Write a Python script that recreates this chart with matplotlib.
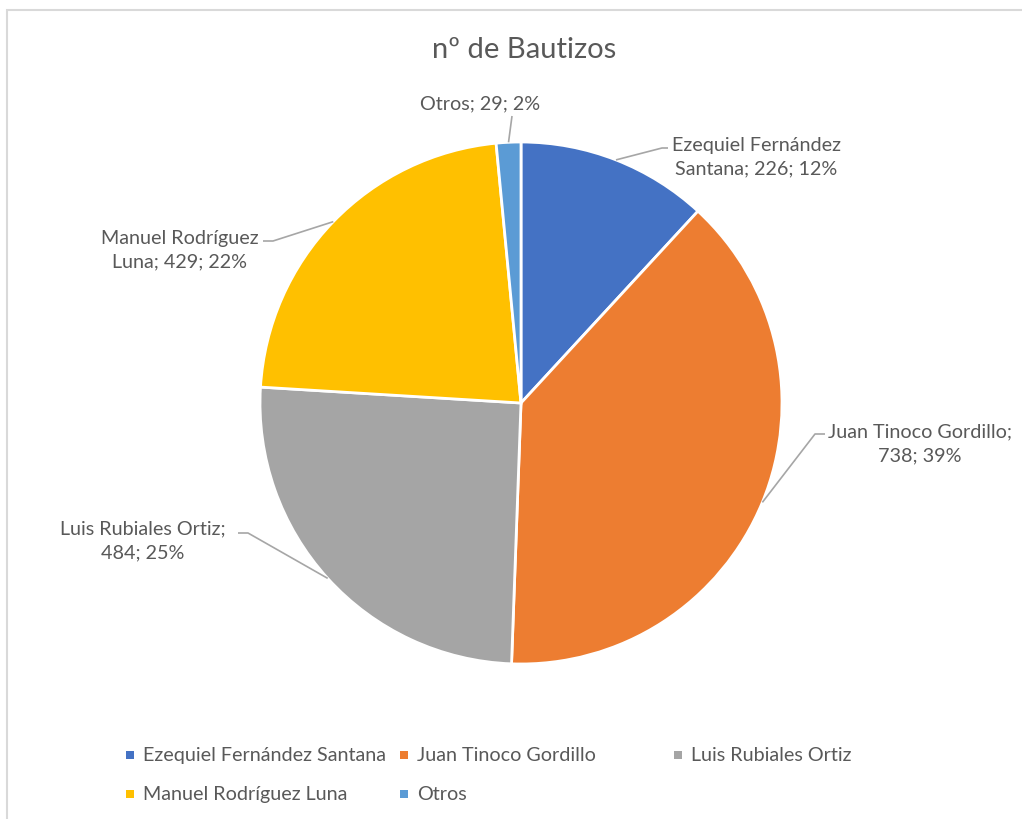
import matplotlib.pyplot as plt
import numpy as np
from matplotlib.patches import Rectangle

# datos
nombres = ["Ezequiel Fernández Santana", "Juan Tinoco Gordillo",
           "Luis Rubiales Ortiz", "Manuel Rodríguez Luna", "Otros"]
bautizos = [226, 738, 484, 429, 29]
porcentajes = [12, 39, 25, 22, 2]
colores = ["#4472C4", "#ED7D31", "#A5A5A5", "#FFC000", "#5B9BD5"]
titulo = "nº de Bautizos"

# donde Excel parte cada etiqueta en dos lineas
cortes = ["Fernández", "Gordillo;", "Ortiz;", "Rodríguez", None]

W, H = 1022, 820
TXT = "#595959"
LINEA = "#A6A6A6"
FUENTE = "Lato"
TAM = 14.2


def py(y):
    # coordenada de pixel (desde arriba) a coordenada de datos
    return H - y


fig = plt.figure(figsize=(W / 100, H / 100), dpi=100)
ax = fig.add_axes([0, 0, 1, 1])

# borde del area del grafico
ax.add_patch(Rectangle((7, py(H + 20)), W + 20, H + 9, fill=False,
                       edgecolor="#D9D9D9", linewidth=1.5))

centro = (521, py(404))
radio = 261
wedges, _ = ax.pie(bautizos, colors=colores, startangle=90, counterclock=False,
                   center=centro, radius=radio,
                   wedgeprops=dict(edgecolor="white", linewidth=2))

ax.text(524, py(50), titulo, ha="center", va="center", fontsize=21,
        color=TXT, family=FUENTE)

# posicion de las etiquetas: centro del texto y codo de la linea guia
pos_etiqueta = [(756, 157), (920, 444), (143, 541), (180, 250), (480, 104)]
codos = [[(662, 149), (668, 149)],
         [(815, 435), (825, 435)],
         [(248, 534), (238, 534)],
         [(273, 242), (263, 242)],
         [(512, 117)]]

for i, w in enumerate(wedges):
    texto = f"{nombres[i]}; {bautizos[i]}; {porcentajes[i]}%"
    if cortes[i]:
        texto = texto.replace(cortes[i] + " ", cortes[i] + "\n", 1)
    ang = np.deg2rad((w.theta1 + w.theta2) / 2)
    x0 = centro[0] + radio * np.cos(ang)
    y0 = centro[1] + radio * np.sin(ang)
    xs = [x0] + [p[0] for p in codos[i]]
    ys = [y0] + [py(p[1]) for p in codos[i]]
    ax.plot(xs, ys, color=LINEA, linewidth=1.2, solid_capstyle="butt")
    tx, ty = pos_etiqueta[i]
    ax.text(tx, py(ty), texto, ha="center", va="center", multialignment="center",
            fontsize=TAM, color=TXT, family=FUENTE, linespacing=1.45)

# leyenda en dos filas, tres columnas
col_x = [130, 404, 678]
fila_y = [756, 795]
for i, nombre in enumerate(nombres):
    cx = col_x[i % 3]
    cy = py(fila_y[i // 3])
    ax.scatter([cx], [cy], marker="s", s=28, color=colores[i], linewidths=0)
    ax.text(cx + 13, cy, nombre, ha="left", va="center", fontsize=TAM,
            color=TXT, family=FUENTE)

ax.set_xlim(0, W)
ax.set_ylim(0, H)
ax.set_aspect("auto")
ax.axis("off")

fig.savefig("out.png", dpi=100)
